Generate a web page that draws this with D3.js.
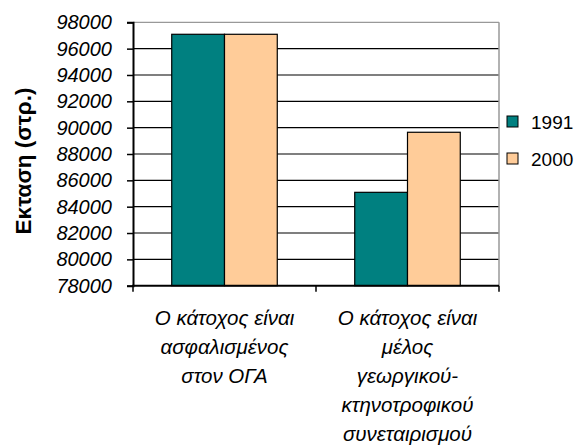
<!DOCTYPE html>
<html>
<head>
<meta charset="utf-8">
<script src="https://cdn.jsdelivr.net/npm/d3@7"></script>
<style>
body{margin:0;background:#fff;}
svg{display:block;font-family:"Liberation Sans",Arial,sans-serif;}
</style>
</head>
<body>
<svg id="c" width="584" height="448"></svg>
<script>
const categories = [
  ["Ο κάτοχος είναι", "ασφαλισμένος", "στον ΟΓΑ"],
  ["Ο κάτοχος είναι", "μέλος", "γεωργικού-", "κτηνοτροφικού", "συνεταιρισμού"]
];
const seriesNames = ["1991", "2000"];
const values1991 = [97090, 85090];
const values2000 = [97090, 89650];
const yTicks = [78000, 80000, 82000, 84000, 86000, 88000, 90000, 92000, 94000, 96000, 98000];
const colors = ["#008080", "#FFCC99"];
const yTitle = "Εκταση (στρ.)";

const svg = d3.select("#c");
const L = 133, R = 499, T = 22.3, B = 285.7;

const x0 = d3.scaleBand().domain(d3.range(categories.length)).range([L, R]).paddingInner(0).paddingOuter(0);
const x1 = d3.scaleBand().domain(seriesNames).range([0, x0.bandwidth()]).paddingInner(0).paddingOuter(0.734);
const y = d3.scaleLinear().domain([78000, 98000]).range([B, T]);

// gridlines
svg.append("g").selectAll("line").data(yTicks.slice(1)).join("line")
  .attr("x1", L).attr("x2", R)
  .attr("y1", d => y(d)).attr("y2", d => y(d))
  .attr("stroke", d => d === 98000 ? "#999" : "#000").attr("stroke-width", 1.2);
// right border
svg.append("line").attr("x1", R).attr("x2", R).attr("y1", T).attr("y2", B).attr("stroke", "#999").attr("stroke-width", 1.5);

// bars
const data = categories.map((c, i) => ({i, vals: [values1991[i], values2000[i]]}));
const g = svg.append("g").selectAll("g").data(data).join("g")
  .attr("transform", d => `translate(${x0(d.i)},0)`);
g.selectAll("rect").data(d => d.vals.map((v, j) => ({v, j}))).join("rect")
  .attr("x", d => x1(seriesNames[d.j]))
  .attr("width", x1.bandwidth())
  .attr("y", d => y(d.v))
  .attr("height", d => B - y(d.v))
  .attr("fill", d => colors[d.j])
  .attr("stroke", "#000").attr("stroke-width", 1.2);

// y axis
const yAxis = d3.axisLeft(y).tickValues(yTicks).tickSize(6).tickFormat(d3.format("d"));
const ya = svg.append("g").attr("transform", `translate(${L},0)`).call(yAxis);
ya.attr("font-size", null).attr("font-family", null);
ya.select(".domain").attr("stroke", "#000").attr("stroke-width", 2);
ya.selectAll(".tick line").attr("stroke", "#000").attr("stroke-width", 1.5);
ya.selectAll(".tick text").style("font-size", "20px").style("font-style", "italic")
  .style("font-family", "'Liberation Sans', Arial, sans-serif").attr("fill", "#000").attr("x", -21);

// x axis
svg.append("line").attr("x1", L - 1).attr("x2", R).attr("y1", B).attr("y2", B).attr("stroke", "#000").attr("stroke-width", 2);
const bounds = d3.range(categories.length + 1).map(i => i < categories.length ? x0(i) : R);
svg.append("g").selectAll("line").data(bounds).join("line")
  .attr("x1", d => d).attr("x2", d => d).attr("y1", B).attr("y2", B + 6)
  .attr("stroke", "#000").attr("stroke-width", 1.5);

// category labels
const cl = svg.append("g").selectAll("text").data(categories).join("text")
  .attr("text-anchor", "middle").style("font-size", "20.5px").style("font-style", "italic")
  .attr("transform", (d, i) => `translate(${x0(i) + x0.bandwidth() / 2},324.5)`);
cl.selectAll("tspan").data(d => d).join("tspan")
  .attr("x", 0).attr("y", (d, i) => i * 29.2).text(d => d);

// y title
svg.append("text").attr("transform", "translate(30.5,161) rotate(-90)")
  .attr("text-anchor", "middle").style("font-size", "22.5px").style("font-weight", "bold")
  .text(yTitle);

// legend
const lg = svg.append("g").selectAll("g").data(seriesNames).join("g")
  .attr("transform", (d, i) => `translate(507,${121.5 + i * 37})`);
lg.append("rect").attr("x", 0).attr("y", -5.5).attr("width", 11).attr("height", 11)
  .attr("fill", (d, i) => colors[i]).attr("stroke", "#000").attr("stroke-width", 1);
lg.append("text").attr("x", 24).attr("y", 7).style("font-size", "19px").text(d => d);
</script>
</body>
</html>
